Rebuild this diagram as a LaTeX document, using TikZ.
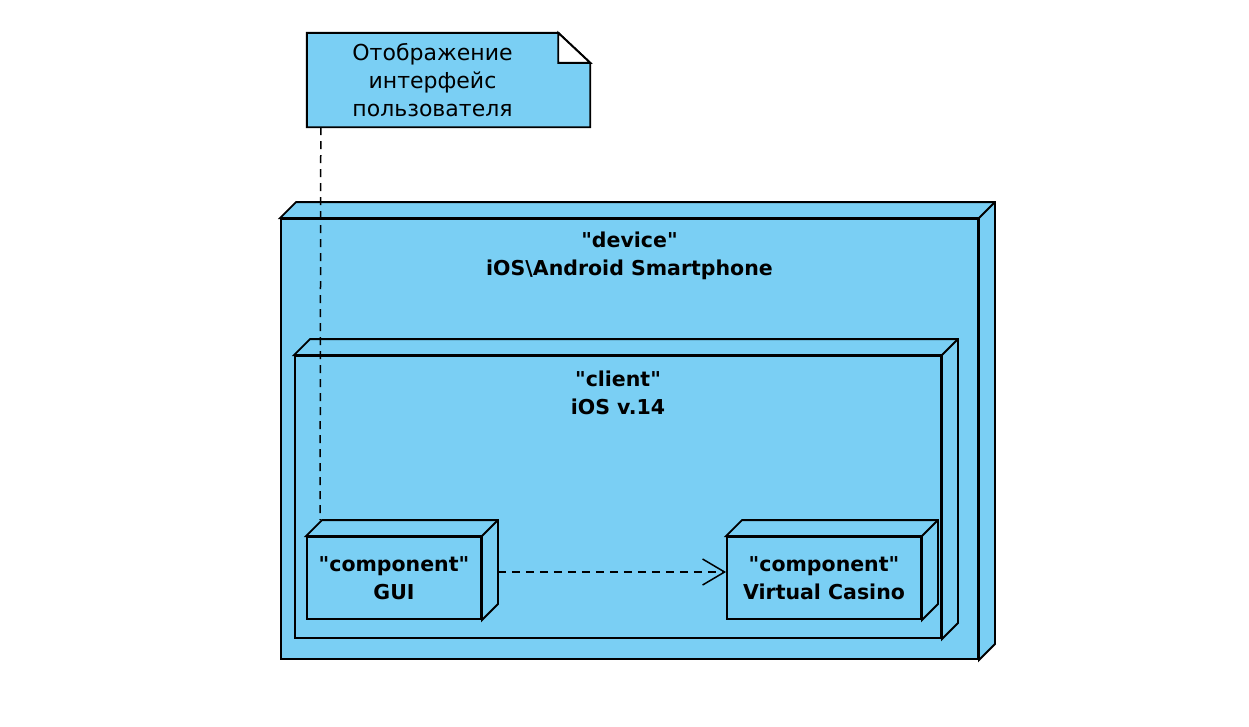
\documentclass[tikz,border=0pt]{standalone}
\usepackage{fontspec}
\setmainfont{DejaVu Sans}
\usetikzlibrary{arrows.meta,calc,positioning}

\definecolor{nodeblue}{RGB}{122,207,244}
\newcommand{\q}{\textquotedbl}

% top and right faces of a 3D node box
\newcommand{\boxdepth}[2]{%
  \draw[box] (#1.north west) -- ++(#2,-#2) -- ($(#1.north east)+(#2,-#2)$)
    -- ($(#1.south east)+(#2,-#2)$) -- (#1.south east) -- (#1.north east) -- cycle;
  \draw[box] (#1.north east) -- ++(#2,-#2);
}

\begin{document}
\begin{tikzpicture}[x=1pt, y=-1pt,
    box/.style = {draw, fill=nodeblue, line width=1.9pt, line join=miter},
    lbl/.style = {align=center, font=\fontsize{20.5}{28}\selectfont\bfseries, inner sep=0pt},
    dashline/.style = {line width=1.5pt, dash pattern=on 8pt off 6pt}]
        \useasboundingbox (0,0) rectangle (1249,726);

        % device
        \node[box, minimum width=697pt, minimum height=440pt, inner sep=0pt] (device) at (629.5,439) {};
        \boxdepth{device}{16}
        \node[lbl] (devicetxt) at (629.5,256) {\q device\q\\iOS\textbackslash Android Smartphone};

        % client
        \node[box, minimum width=646pt, minimum height=282pt, inner sep=0pt] (client) at (618,497) {};
        \boxdepth{client}{16}
        \node[lbl] (clienttxt) at (618,393) {\q client\q\\iOS v.14};

        % components
        \node[box, lbl, minimum width=174pt, minimum height=82pt] (gui) at (394,578) {\q component\q\\GUI};
        \boxdepth{gui}{16}
        \node[box, lbl, minimum width=194pt, minimum height=82pt] (casino) at (824,578) {\q component\q\\Virtual Casino};
        \boxdepth{casino}{16}

        \draw[dashline, -{Straight Barb[length=22pt, width=26pt, line width=1.5pt]}]
            ($(gui.east)+(16,-6)$) -- ($(casino.west)+(0,-6)$);

        % note
        \node[minimum width=251pt, minimum height=94pt, inner sep=0pt] (note) at (432.5,80) {};
        \draw[box] (note.north west) -- (note.north east) -- ++(32,30) -- ($(note.south east)+(32,0)$)
            -- (note.south west) -- cycle;
        \draw[box, fill=white] (note.north east) -- ++(0,30) -- ++(32,0) -- cycle;
        \node[align=center, font=\fontsize{22}{28}\selectfont, inner sep=0pt] (notetxt) at (note) {Отображение\\интерфейс\\пользователя};

        \draw[dashline] ($(note.south west)+(14,0)$) -- ($(gui.north west)+(14,-16)$);
    \end{tikzpicture}
\end{document}
